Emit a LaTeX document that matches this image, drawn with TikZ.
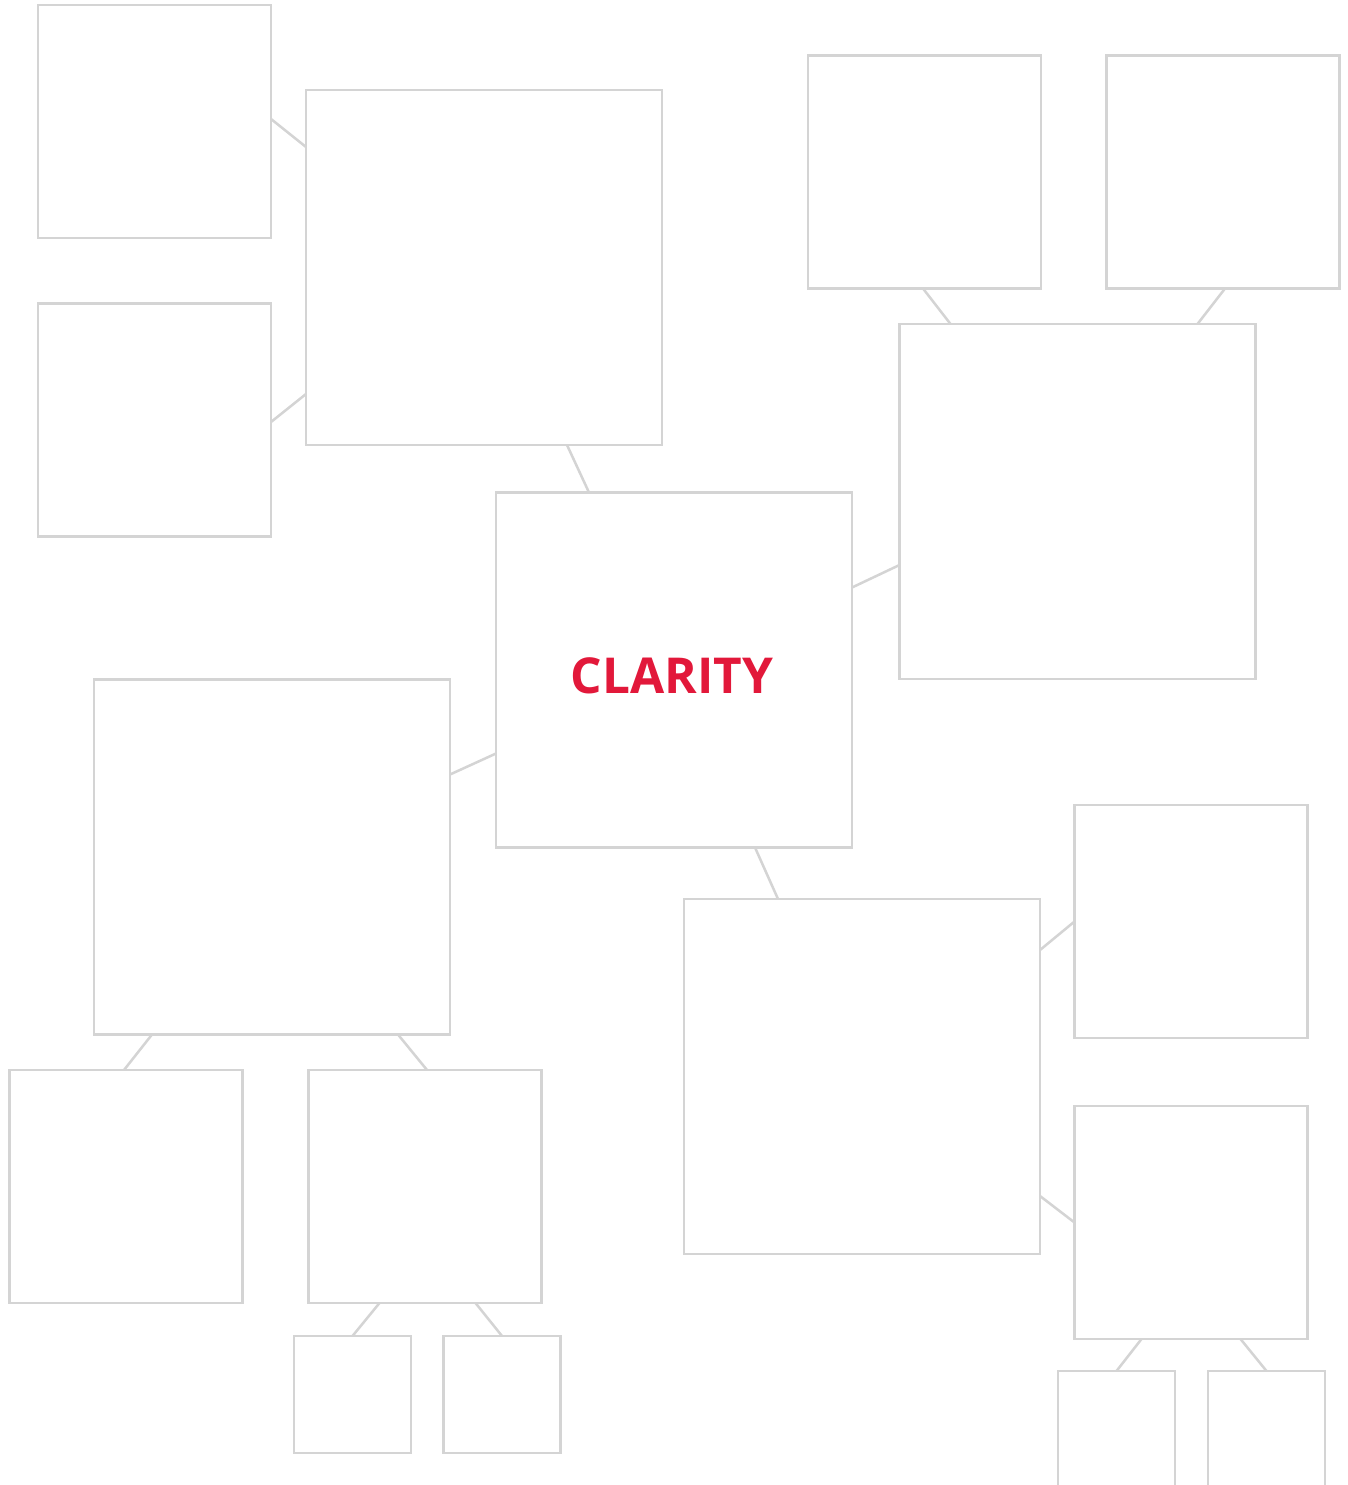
\documentclass[tikz,border=0pt]{standalone}
\usepackage{fontspec}
\setmainfont{Open Sans}
\definecolor{boxgray}{HTML}{D4D4D4}
\definecolor{clarityred}{HTML}{E2183A}
\begin{document}
\begin{tikzpicture}[x=1pt,y=-1pt,
  box/.style={draw=boxgray, line width=2.5pt, outer sep=0pt, inner sep=0pt, fill=white},
  bigbox/.style={box, minimum width=356pt, minimum height=355pt},
  midbox/.style={box, minimum width=233pt, minimum height=233pt},
  smallbox/.style={box, minimum width=117pt, minimum height=117pt},
  link/.style={draw=boxgray, line width=2.5pt},
  title/.style={text=clarityred, font=\bfseries\fontsize{49.5}{54}\selectfont}]
\fill[white] (0,0) rectangle (1347,1485);
\clip (0,0) rectangle (1347,1485);
% boxes
\node[midbox] (A) at (154.5,121.5) {};
\node[bigbox] (B) at (484,267.5) {};
\node[midbox] (C) at (154.5,420) {};
\node[midbox] (D) at (924.5,172) {};
\node[midbox] (E) at (1223,172) {};
\node[bigbox] (F) at (1077.5,501.5) {};
\node[bigbox] (G) at (674,670) {};
\node[bigbox] (H) at (272,857) {};
\node[midbox] (I) at (126,1186.5) {};
\node[midbox] (J) at (425,1186.5) {};
\node[smallbox] (K) at (352.5,1394.5) {};
\node[smallbox] (L) at (502,1394.5) {};
\node[bigbox] (M) at (862,1076.5) {};
\node[midbox] (N) at (1191,921.5) {};
\node[midbox] (O) at (1191,1222.5) {};
\node[smallbox] (P) at (1116.5,1429.5) {};
\node[smallbox] (Q) at (1266.5,1429.5) {};
\node[title] (T) at (672,676) {CLARITY};
% connectors
\draw[link] ([yshift=2.5pt]A.east) -- ([yshift=-57pt]B.north west);
\draw[link] ([yshift=-2pt]C.east) -- ([yshift=51pt]B.south west);
\draw[link] ([xshift=261pt]B.south west) -- ([xshift=93pt]G.north west);
\draw[link] ([xshift=-1.5pt]D.south) -- ([xshift=51pt]F.north west);
\draw[link] ([xshift=2pt]E.south) -- ([xshift=-58pt]F.north east);
\draw[link] ([yshift=-95pt]G.north east) -- ([yshift=-241pt]F.north west);
\draw[link] ([yshift=-95pt]H.north east) -- ([yshift=94pt]G.south west);
\draw[link] ([xshift=-97pt]G.south east) -- ([xshift=94pt]M.north west);
\draw[link] ([xshift=58pt]H.south west) -- ([xshift=-2pt]I.north);
\draw[link] ([xshift=-52pt]H.south east) -- ([xshift=2pt]J.north);
\draw[link] ([xshift=71pt]J.south west) -- (K.north);
\draw[link] ([xshift=-66pt]J.south east) -- (L.north);
\draw[link] ([yshift=-51pt]M.north east) -- (N.west);
\draw[link] ([yshift=58pt]M.south east) -- (O.west);
\draw[link] ([xshift=67pt]O.south west) -- (P.north);
\draw[link] ([xshift=-67pt]O.south east) -- (Q.north);
\end{tikzpicture}
\end{document}
